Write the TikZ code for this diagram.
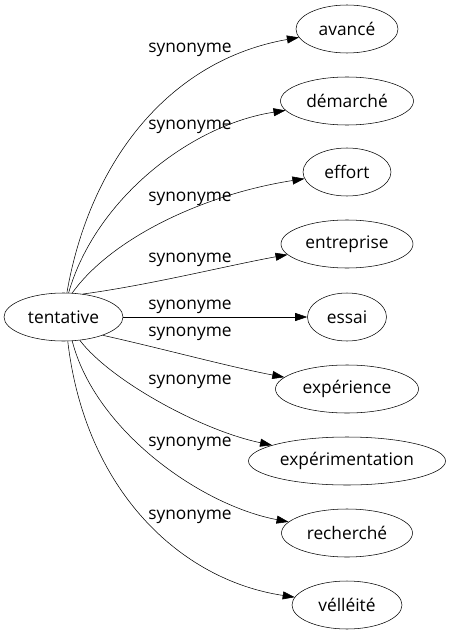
\documentclass[tikz,border=0pt]{standalone}
\usepackage{fontspec}
\setmainfont{Open Sans}
\usetikzlibrary{
  shapes.geometric,
  arrows.meta,
}
\newdimen\px
\px=0.75pt
\tikzset{
  font=\fontsize{13}{15}\selectfont,
  line width=0.75pt,
  >={Triangle[length=9pt,width=6pt]},
  my word/.style={
    draw,
    ellipse,
    inner sep=0pt,
    minimum height=48\px
  },
  my label/.style={
    inner sep=0pt
  },
  syn/.style={
    ->
  }
}

\begin{document}
\begin{tikzpicture}[x=0.75pt,y=-0.75pt]
\useasboundingbox (0,0) rectangle (452,635);
\node[my word,minimum width=119\px] (tentative) at (63.5,317) {tentative};
\foreach \n/\t/\y/\w in {avance/avancé/29/102,
                         demarche/démarché/101/133,
                         effort/effort/172/88,
                         entreprise/entreprise/244/132,
                         essai/essai/317/79,
                         experience/expérience/389/143,
                         experimentation/expérimentation/461/197,
                         recherche/recherché/533/131,
                         velleite/vélléité/605/110}
  \node[my word,minimum width=\w\px] (\n) at (347,\y) {\t};
% edges
\draw[syn] (tentative.82) .. controls (90,160) and (170,60) .. (avance);
\draw[syn] (tentative.78) .. controls (95,200) and (190,125) .. (demarche);
\draw[syn] (tentative.70) .. controls (110,240) and (200,195) .. (effort);
\draw[syn] (tentative.50) .. controls (150,285) and (230,265) .. (entreprise);
\draw[syn] (tentative) -- (essai);
\draw[syn] (tentative.-25) .. controls (160,348) and (230,367) .. (experience);
\draw[syn] (tentative.-55) .. controls (110,380) and (200,430) .. (experimentation);
\draw[syn] (tentative.-70) .. controls (95,430) and (200,505) .. (recherche);
\draw[syn] (tentative.-80) .. controls (85,490) and (180,580) .. (velleite);
% labels
\node[my label] (l1) at (190,50)  {synonyme};
\node[my label] (l2) at (190,127) {synonyme};
\node[my label] (l3) at (190,199) {synonyme};
\node[my label] (l4) at (190,260) {synonyme};
\node[my label] (l5) at (190,307) {synonyme};
\node[my label] (l6) at (190,334) {synonyme};
\node[my label] (l7) at (190,382) {synonyme};
\node[my label] (l8) at (190,444) {synonyme};
\node[my label] (l9) at (190,517) {synonyme};
\end{tikzpicture}
\end{document}
